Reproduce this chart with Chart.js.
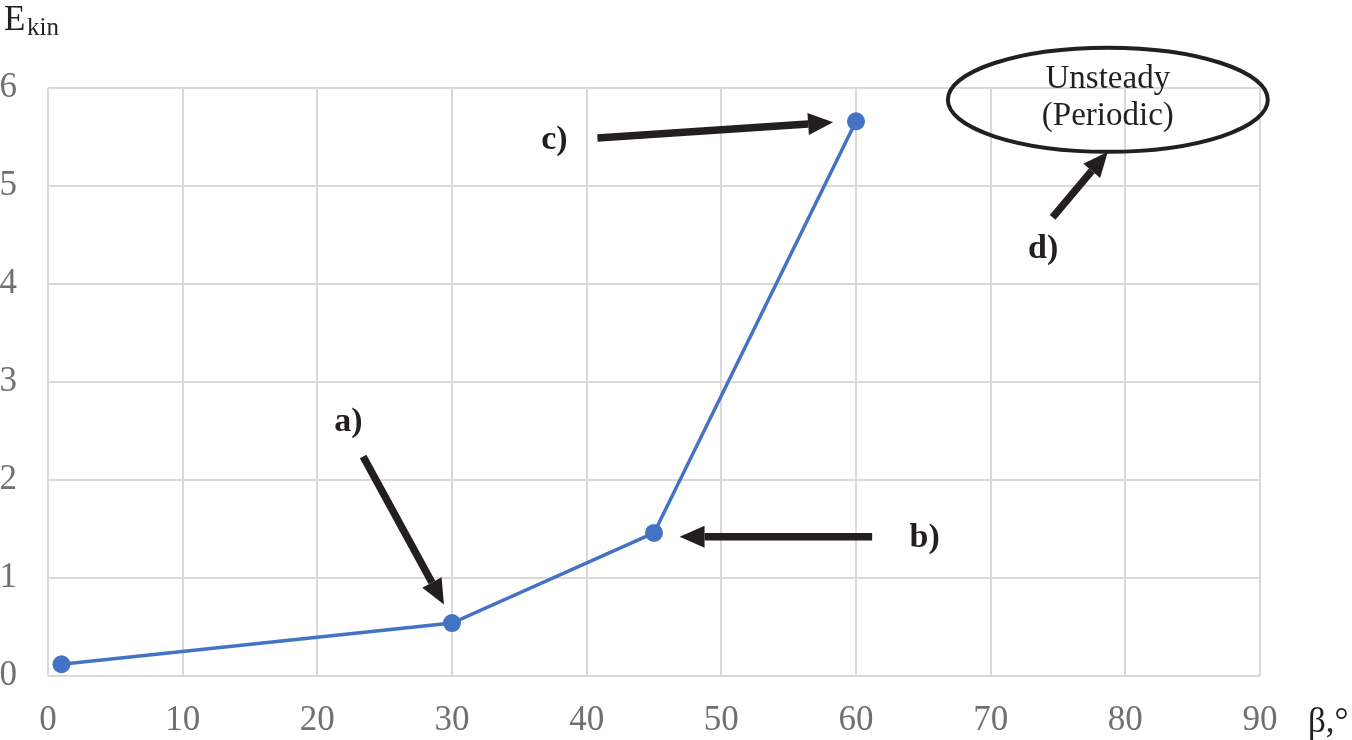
<!DOCTYPE html>
<html>
<head>
<meta charset="utf-8">
<script src="https://cdn.jsdelivr.net/npm/chart.js@4"></script>
<style>
  html, body { margin: 0; padding: 0; background: #fff; }
  #wrap { width: 1352px; height: 740px; position: relative; }
</style>
</head>
<body>
<div id="wrap"><canvas id="chart-ekin"></canvas></div>
<script>
// данные
const betaValues = [1, 30, 45, 60];
const ekinValues = [0.12, 0.54, 1.46, 5.66];
const xTicks = [0, 10, 20, 30, 40, 50, 60, 70, 80, 90];
const yTicks = [0, 1, 2, 3, 4, 5, 6];

// подписи стрелок (в координатах графика)
const noteLabels = ["a)", "b)", "c)", "d)"];
const noteLabelX = [22.3, 65.1, 37.6, 73.9];
const noteLabelY = [2.59, 1.41, 5.47, 4.35];
const arrowFromX = [23.4, 61.2, 40.8, 74.6];
const arrowFromY = [2.24, 1.42, 5.49, 4.68];
const arrowToX = [29.4, 46.9, 58.3, 78.7];
const arrowToY = [0.73, 1.42, 5.65, 5.35];

const ovalLines = ["Unsteady", "(Periodic)"];
const ovalCenter = [78.7, 5.88];

const SERIF = "'Liberation Serif', 'Times New Roman', serif";
const TICK_COLOR = "#707070";
const GRID_COLOR = "#d9d9d9";
const INK = "#231f20";

function drawArrow(ctx, x1, y1, x2, y2) {
  const ang = Math.atan2(y2 - y1, x2 - x1);
  const headLen = 25;
  const headW = 11;
  const bx = x2 - headLen * Math.cos(ang);
  const by = y2 - headLen * Math.sin(ang);

  ctx.beginPath();
  ctx.moveTo(x1, y1);
  ctx.lineTo(bx, by);
  ctx.lineWidth = 7.5;
  ctx.strokeStyle = INK;
  ctx.stroke();

  ctx.beginPath();
  ctx.moveTo(x2, y2);
  ctx.lineTo(bx + headW * Math.sin(ang), by - headW * Math.cos(ang));
  ctx.lineTo(bx - headW * Math.sin(ang), by + headW * Math.cos(ang));
  ctx.closePath();
  ctx.fillStyle = INK;
  ctx.fill();
}

// стрелки, подписи, овал и названия осей
const notesPlugin = {
  id: "notesPlugin",
  afterDatasetsDraw: function (chart) {
    const ctx = chart.ctx;
    const xs = chart.scales.x;
    const ys = chart.scales.y;
    ctx.save();

    for (let i = 0; i < noteLabels.length; i++) {
      drawArrow(
        ctx,
        xs.getPixelForValue(arrowFromX[i]),
        ys.getPixelForValue(arrowFromY[i]),
        xs.getPixelForValue(arrowToX[i]),
        ys.getPixelForValue(arrowToY[i])
      );
      ctx.font = "bold 34px " + SERIF;
      ctx.fillStyle = INK;
      ctx.textAlign = "center";
      ctx.textBaseline = "middle";
      ctx.fillText(
        noteLabels[i],
        xs.getPixelForValue(noteLabelX[i]),
        ys.getPixelForValue(noteLabelY[i])
      );
    }

    // овал
    const cx = xs.getPixelForValue(ovalCenter[0]);
    const cy = ys.getPixelForValue(ovalCenter[1]);
    ctx.beginPath();
    ctx.ellipse(cx, cy, 160, 52, 0, 0, Math.PI * 2);
    ctx.lineWidth = 4;
    ctx.strokeStyle = INK;
    ctx.stroke();
    ctx.font = "33px " + SERIF;
    ctx.fillStyle = INK;
    ctx.fillText(ovalLines[0], cx, cy - 20);
    ctx.fillText(ovalLines[1], cx, cy + 17);

    // названия осей
    ctx.textAlign = "left";
    ctx.textBaseline = "alphabetic";
    ctx.font = "35px " + SERIF;
    ctx.fillText("E", 4, 30);
    ctx.font = "25px " + SERIF;
    ctx.fillText("kin", 27, 35);
    ctx.font = "35px " + SERIF;
    ctx.fillText("β,°", 1308, 732);

    ctx.restore();
  },
};

const ctx = document.getElementById("chart-ekin").getContext("2d");

new Chart(ctx, {
  type: "line",
  data: {
    datasets: [
      {
        data: betaValues.map((b, i) => ({ x: b, y: ekinValues[i] })),
        borderColor: "#4472c4",
        backgroundColor: "#4472c4",
        borderWidth: 3.5,
        pointRadius: 9,
        pointHoverRadius: 9,
        pointBorderWidth: 0,
        tension: 0,
      },
    ],
  },
  plugins: [notesPlugin],
  options: {
    responsive: true,
    maintainAspectRatio: false,
    animation: false,
    layout: { padding: { top: 88, right: 92, left: 0, bottom: 0 } },
    scales: {
      x: {
        type: "linear",
        min: 0,
        max: 90,
        afterFit: (s) => { s.height = 64; },
        afterBuildTicks: (s) => { s.ticks = xTicks.map((v) => ({ value: v })); },
        grid: { color: GRID_COLOR, lineWidth: 2, drawTicks: false },
        border: { display: false },
        ticks: {
          color: TICK_COLOR,
          font: { family: SERIF, size: 35 },
          padding: 24,
          maxRotation: 0,
        },
      },
      y: {
        min: 0,
        max: 6,
        afterFit: (s) => { s.width = 48; },
        afterBuildTicks: (s) => { s.ticks = yTicks.map((v) => ({ value: v })); },
        grid: { color: GRID_COLOR, lineWidth: 2, drawTicks: false },
        border: { display: false },
        ticks: {
          color: TICK_COLOR,
          font: { family: SERIF, size: 35 },
          padding: 31,
        },
      },
    },
    plugins: {
      legend: { display: false },
      tooltip: { enabled: false },
    },
  },
});
</script>
</body>
</html>
